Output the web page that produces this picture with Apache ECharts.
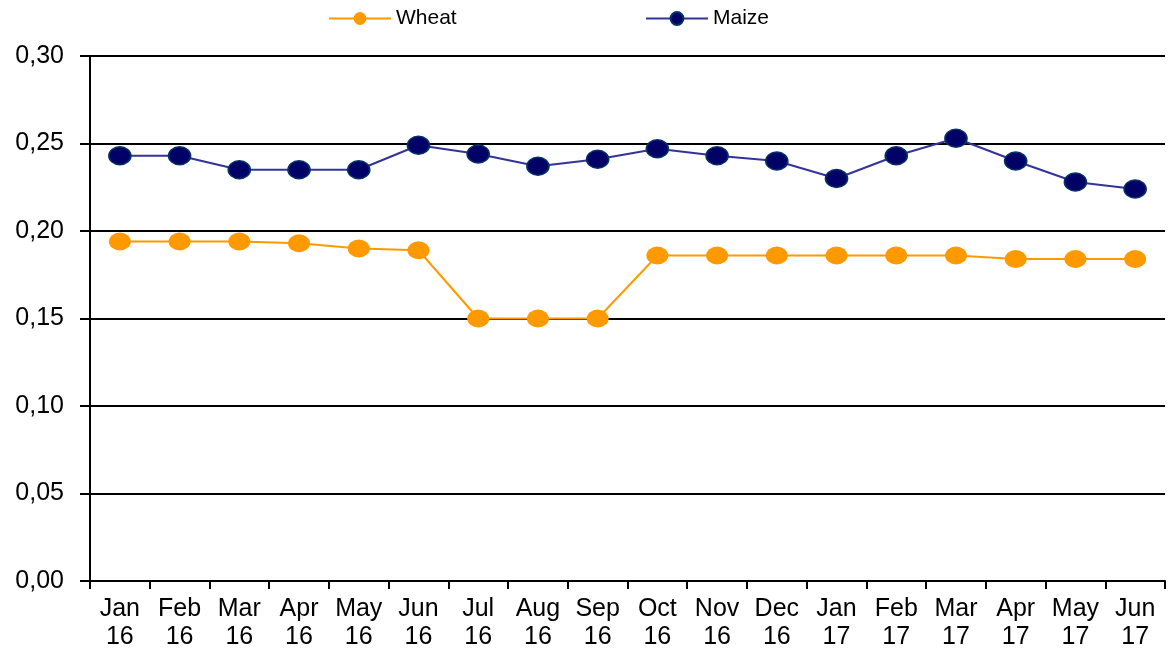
<!DOCTYPE html>
<html>
<head>
<meta charset="UTF-8">
<title>Wheat and Maize</title>
<script src="https://cdn.jsdelivr.net/npm/echarts@6/dist/echarts.min.js"></script>
<style>
    html, body { margin: 0; padding: 0; background: #fff; }
    #chart { width: 1169px; height: 653px; }
</style>
</head>
<body>
<div id="chart"></div>
<script>
    // categories (month / year)
    const months = ['Jan\n16', 'Feb\n16', 'Mar\n16', 'Apr\n16', 'May\n16', 'Jun\n16',
        'Jul\n16', 'Aug\n16', 'Sep\n16', 'Oct\n16', 'Nov\n16', 'Dec\n16',
        'Jan\n17', 'Feb\n17', 'Mar\n17', 'Apr\n17', 'May\n17', 'Jun\n17'];

    const wheat = [0.194, 0.194, 0.194, 0.193, 0.190, 0.189, 0.150, 0.150, 0.150,
        0.186, 0.186, 0.186, 0.186, 0.186, 0.186, 0.184, 0.184, 0.184];

    const maize = [0.243, 0.243, 0.235, 0.235, 0.235, 0.249, 0.244, 0.237, 0.241,
        0.247, 0.243, 0.240, 0.230, 0.243, 0.253, 0.240, 0.228, 0.224];

    const chart = echarts.init(document.getElementById('chart'));

    const font = 'Liberation Sans, Arial, sans-serif';

    // one legend per series so each sits where the original put it
    const legendBase = {
        top: 8,
        padding: 0,
        itemWidth: 62,
        itemHeight: 16,
        itemGap: 0,
        textStyle: { fontFamily: font, fontSize: 21, color: '#000' }
    };

    chart.setOption({
        animation: false,
        legend: [
            Object.assign({}, legendBase, { left: 328, data: ['Wheat'] }),
            Object.assign({}, legendBase, { left: 645, data: ['Maize'] })
        ],
        grid: { left: 90, right: 4, top: 56, bottom: 72 },
        xAxis: {
            type: 'category',
            data: months,
            boundaryGap: true,
            axisLine: { lineStyle: { color: '#000', width: 2 } },
            axisTick: { show: true, length: 8, lineStyle: { color: '#000', width: 2 } },
            axisLabel: {
                interval: 0,
                fontFamily: font,
                fontSize: 25,
                color: '#000',
                lineHeight: 28,
                margin: 14
            }
        },
        yAxis: {
            type: 'value',
            min: 0,
            max: 0.3,
            interval: 0.05,
            axisLine: { show: true, lineStyle: { color: '#000', width: 2 } },
            axisTick: { show: true, length: 10, lineStyle: { color: '#000', width: 2 } },
            splitLine: { lineStyle: { color: '#000', width: 2 } },
            axisLabel: {
                fontFamily: font,
                fontSize: 25,
                color: '#000',
                margin: 26,
                formatter: v => v.toFixed(2).replace('.', ',')
            }
        },
        series: [
            {
                name: 'Wheat',
                type: 'line',
                data: wheat,
                symbol: 'circle',
                symbolSize: [22, 18],
                lineStyle: { color: '#ff9900', width: 2 },
                itemStyle: { color: '#ff9900' }
            },
            {
                name: 'Maize',
                type: 'line',
                data: maize,
                symbol: 'circle',
                symbolSize: [22, 18],
                lineStyle: { color: '#333399', width: 2 },
                itemStyle: { color: '#000066', borderColor: '#003366', borderWidth: 1.5 }
            }
        ]
    });
</script>
</body>
</html>
